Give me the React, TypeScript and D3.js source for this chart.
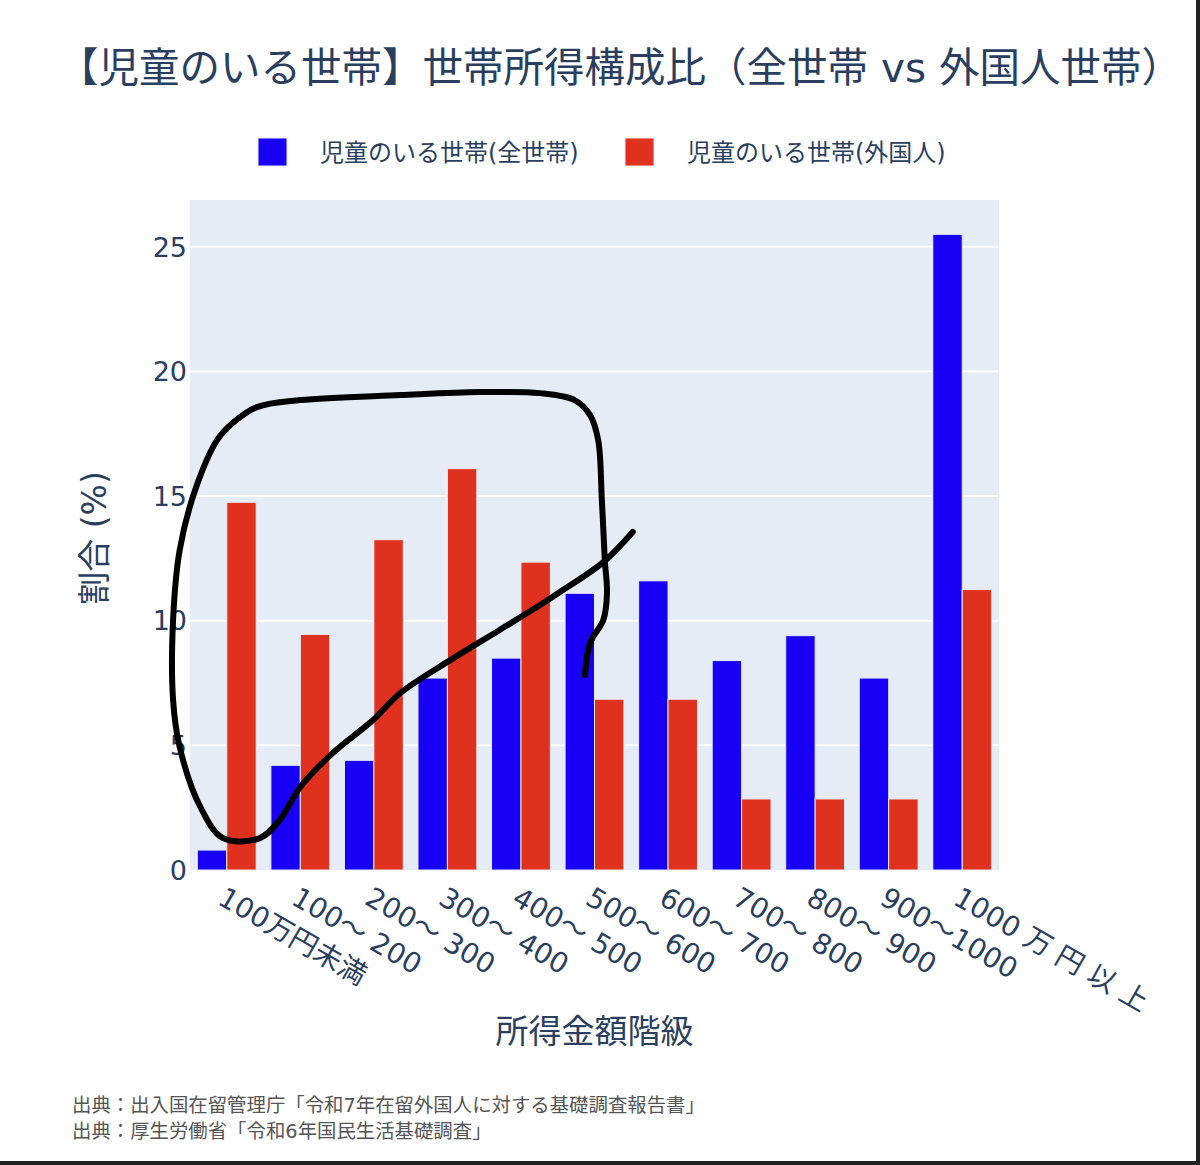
import React from "react";
import * as d3 from "d3";

const categories = [
  "100万円未満",
  "100～ 200",
  "200～ 300",
  "300～ 400",
  "400～ 500",
  "500～ 600",
  "600～ 700",
  "700～ 800",
  "800～ 900",
  "900～1000",
  "1000 万 円 以 上",
];
const allHouseholds = [0.8, 4.2, 4.4, 7.7, 8.5, 11.1, 11.6, 8.4, 9.4, 7.7, 25.5];
const foreignHouseholds = [14.75, 9.45, 13.25, 16.1, 12.35, 6.85, 6.85, 2.85, 2.85, 2.85, 11.25];
const seriesKeys = ["all", "foreign"];
const seriesNames = ["児童のいる世帯(全世帯)", "児童のいる世帯(外国人)"];
const seriesColors = ["#1700F4", "#E0311F"];
const yTicks = [0, 5, 10, 15, 20, 25];
const chartTitle = "【児童のいる世帯】世帯所得構成比（全世帯 vs 外国人世帯）";
const xTitle = "所得金額階級";
const yTitle = "割合 (%)";
const sources = [
  "出典：出入国在留管理庁「令和7年在留外国人に対する基礎調査報告書」",
  "出典：厚生労働省「令和6年国民生活基礎調査」",
];
// hand-drawn annotation, in data space: [band position, value]
const annotation: [number, number][] = [
  [5.37, 7.82], [5.44, 9.11], [5.62, 10.03], [5.67, 11.11], [5.64, 12.43],
  [5.6, 14.84], [5.55, 17.25], [5.44, 18.25], [5.23, 18.85], [4.76, 19.13],
  [3.94, 19.17], [2.86, 19.05], [1.5, 18.85], [0.91, 18.57], [0.58, 17.93],
  [0.37, 17.25], [0.07, 15.24], [-0.14, 12.84], [-0.23, 10.03], [-0.23, 6.82],
  [-0.14, 4.93], [0.14, 2.53], [0.45, 1.28], [0.95, 1.28], [1.22, 2.01],
  [1.5, 3.33], [1.94, 4.69], [2.49, 6.02], [2.86, 7.1], [3.54, 8.42],
  [4.21, 9.63], [4.76, 10.63], [5.03, 11.15], [5.62, 12.35], [6.02, 13.56],
];

const W = 1200;
const H = 1165;
const PL = 190, PR = 999, PT = 200, PB = 870;
const FONT = '"DejaVu Sans", "Noto Sans CJK JP", sans-serif';
const TXT = "#2a3f5f";

export default function App() {
  const x = d3.scaleBand<string>().domain(categories).range([PL, PR]).paddingInner(0.2).paddingOuter(0.1);
  const xs = d3.scaleBand<string>().domain(seriesKeys).range([0, x.bandwidth()]);
  const ymax = (d3.max([...allHouseholds, ...foreignHouseholds]) as number) * 1.054;
  const y = d3.scaleLinear().domain([0, ymax]).range([PB, PT]);
  const pos = d3.scaleLinear().domain([0, categories.length]).range([PL, PR]);
  const series = [allHouseholds, foreignHouseholds];

  const line = d3
    .line<[number, number]>()
    .x((d) => pos(d[0]))
    .y((d) => y(d[1]))
    .curve(d3.curveCatmullRom.alpha(0.5));

  return (
    <svg
      width={W}
      height={H}
      style={{ position: "absolute", left: 0, top: 0, background: "#fff", fontFamily: FONT }}
    >
      <rect x={0} y={0} width={W} height={H} fill="#fff" />
      <text x={620} y={82} textAnchor="middle" fontSize={40.5} fill={TXT}>
        {chartTitle}
      </text>

      {/* legend */}
      {seriesNames.map((n, i) => {
        const lx = [258, 625][i];
        return (
          <g key={n}>
            <rect x={lx} y={138} width={29} height={28} fill={seriesColors[i]} stroke="#E5ECF6" strokeWidth={1} />
            <text x={lx + 62} y={161} fontSize={24} fill={TXT}>
              {n}
            </text>
          </g>
        );
      })}

      {/* plot area */}
      <rect x={PL} y={PT} width={PR - PL} height={PB - PT} fill="#E5ECF6" />
      {yTicks.map((t) => (
        <g key={t}>
          {t > 0 && <line x1={PL} x2={PR} y1={y(t)} y2={y(t)} stroke="#fff" strokeWidth={2} />}
          <text x={187} y={y(t)} dy="0.36em" textAnchor="end" fontSize={27} fill={TXT}>
            {t}
          </text>
        </g>
      ))}

      {categories.map((c, ci) =>
        seriesKeys.map((k, si) => (
          <rect
            key={c + k}
            x={(x(c) as number) + (xs(k) as number)}
            y={y(series[si][ci])}
            width={xs.bandwidth()}
            height={y(0) - y(series[si][ci])}
            fill={seriesColors[si]}
            stroke="#E5ECF6"
            strokeWidth={1}
          />
        ))
      )}

      {/* x tick labels */}
      {categories.map((c) => {
        const tx = (x(c) as number) + x.bandwidth() / 2;
        return (
          <text
            key={c}
            transform={`translate(${tx},${PB + 15}) rotate(30)`}
            dy="0.75em"
            fontSize={28}
            fill={TXT}
          >
            {c}
          </text>
        );
      })}

      <text x={(PL + PR) / 2} y={1043} textAnchor="middle" fontSize={33} fill={TXT}>
        {xTitle}
      </text>
      <text transform={`translate(106,${(PT + PB) / 2 + 3}) rotate(-90)`} textAnchor="middle" fontSize={33} fill={TXT}>
        {yTitle}
      </text>

      {sources.map((s, i) => (
        <text key={s} x={72} y={1112 + i * 26} fontSize={19.4} fill="#555">
          {s}
        </text>
      ))}

      {/* hand-drawn annotation */}
      <path d={line(annotation) as string} fill="none" stroke="#000" strokeWidth={6} strokeLinecap="round" strokeLinejoin="round" />

      {/* photo edge */}
      <rect x={1196} y={0} width={4} height={H} fill="#222" />
      <rect x={0} y={1161} width={W} height={4} fill="#222" />
    </svg>
  );
}
